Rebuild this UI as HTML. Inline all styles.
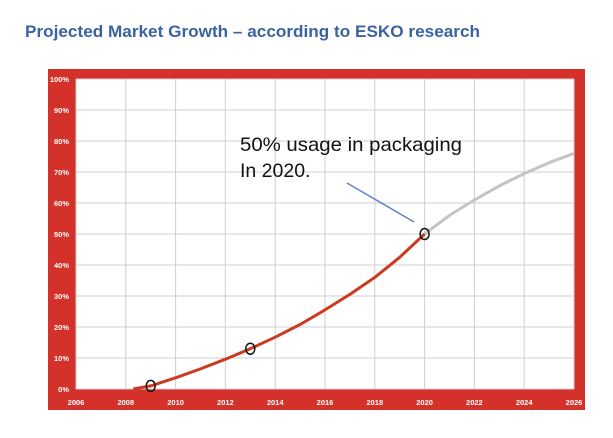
<!DOCTYPE html>
<html><head><meta charset="utf-8"><style>
html,body{margin:0;padding:0;background:#fff;width:613px;height:438px;overflow:hidden}
svg{display:block;font-family:"Liberation Sans",sans-serif}
</style></head><body>
<svg id="chart" width="613" height="438" viewBox="0 0 613 438">
<text x="25" y="37" font-size="17" font-weight="bold" fill="#3b62a3" textLength="455" lengthAdjust="spacingAndGlyphs">Projected Market Growth – according to ESKO research</text>
<rect x="48" y="69" width="537" height="341" fill="#d4312a"/>
<rect x="76" y="79" width="498" height="310" fill="#fff"/>
<g id="grid"></g><g id="yticks"></g><g id="xticks"></g><g id="series"></g>
<line x1="347" y1="183" x2="414" y2="222" stroke="#5b84c4" stroke-width="1.5"/>
<text x="240" y="151" font-size="19.5" fill="#111" textLength="222" lengthAdjust="spacingAndGlyphs">50% usage in packaging</text>
<text x="240" y="177" font-size="19.5" fill="#111">In 2020.</text>
</svg>
<script>
const xTicks=[2006,2008,2010,2012,2014,2016,2018,2020,2022,2024,2026];
const yTicks=[0,10,20,30,40,50,60,70,80,90,100];
const actualYears=[2008.3,2009,2010,2011,2012,2013,2014,2015,2016,2017,2018,2019,2020];
const actualValues=[0,1,3.6,6.5,9.6,13,16.7,20.8,25.5,30.5,36,42.5,50];
const projYears=[2020,2021,2022,2023,2024,2025,2026];
const projValues=[50,56,61,65.5,69.5,73,76];
const markerYears=[2009,2013,2020];
const markerValues=[1,13,50];
const NS="http://www.w3.org/2000/svg";
const X=v=>76+(v-2006)*(574-76)/20;
const Y=v=>389-v*(389-79)/100;
function mk(t,a,p){const e=document.createElementNS(NS,t);for(const k in a)e.setAttribute(k,a[k]);p.appendChild(e);return e;}
const g=document.getElementById('grid'),yt=document.getElementById('yticks'),xt=document.getElementById('xticks'),s=document.getElementById('series');
yTicks.forEach(v=>{
 const l=mk('line',{x1:76,x2:574,y1:Y(v),y2:Y(v),stroke:'#cfcfcf','stroke-width':1},g);
 
 
 const t=mk('text',{x:69,y:Y(v)+3,'font-size':7.5,'font-weight':'bold',fill:'#fff','text-anchor':'end'},yt);
 t.textContent=v+'%';
 
 
});
xTicks.forEach(v=>{
 const l=mk('line',{x1:X(v),x2:X(v),y1:79,y2:389,stroke:'#cfcfcf','stroke-width':1},g);
 
 
 const t=mk('text',{x:X(v),y:405,'font-size':7.5,'font-weight':'bold',fill:'#fff','text-anchor':'middle'},xt);
 t.textContent=v;
 
 
});
function path(xs,ys){let d='';xs.forEach((x,i)=>{d+=(i?'L':'M')+X(x).toFixed(1)+','+Y(ys[i]).toFixed(1);});return d;}
const p2=mk('path',{d:path(projYears,projValues),fill:'none',stroke:'#c4c4c4','stroke-width':3,'stroke-linejoin':'round'},s);


const p1=mk('path',{d:path(actualYears,actualValues),fill:'none',stroke:'#cc3a22','stroke-width':3,'stroke-linejoin':'round'},s);


markerYears.forEach((x,i)=>{
 const c=mk('ellipse',{cx:X(x),cy:Y(markerValues[i]),rx:4.5,ry:5.5,fill:'none',stroke:'#111','stroke-width':1.5},s);
 
 
});
</script>
</body></html>
